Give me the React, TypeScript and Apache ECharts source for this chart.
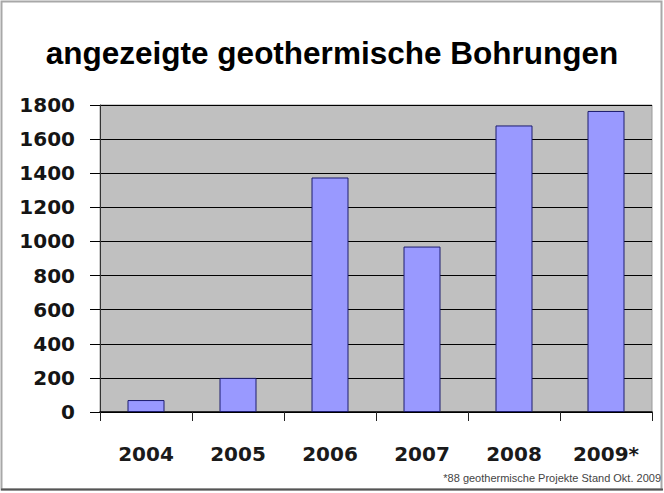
import React, { useEffect, useRef } from "react";
import * as echarts from "echarts";

const categories = ["2004", "2005", "2006", "2007", "2008", "2009*"];
const values = [70, 200, 1375, 970, 1680, 1765];
const yTicks = [0, 200, 400, 600, 800, 1000, 1200, 1400, 1600, 1800];
const titleText = "angezeigte geothermische Bohrungen";
const footnote = "*88 geothermische Projekte Stand Okt. 2009";

export default function App() {
  const ref = useRef<HTMLDivElement>(null);
  useEffect(() => {
    document.body.style.margin = "0";
    const chart = echarts.init(ref.current!, null, { renderer: "svg" });
    chart.setOption({
      animation: false,
      backgroundColor: "#ffffff",
      title: {
        text: titleText,
        left: "center",
        top: 32,
        textStyle: {
          fontFamily: "Liberation Sans",
          fontWeight: "bold",
          fontSize: 31.5,
          color: "#000",
        },
      },
      grid: {
        left: 100,
        right: 12,
        top: 105,
        bottom: 81,
        show: true,
        backgroundColor: "#c0c0c0",
        borderColor: "#9a9a9a",
        borderWidth: 1,
      },
      xAxis: {
        type: "category",
        data: categories,
        axisLine: { show: true, lineStyle: { color: "#000", width: 1.5 } },
        axisTick: { show: true, length: 9, lineStyle: { color: "#222" } },
        axisLabel: {
          margin: 32,
          fontFamily: "DejaVu Sans",
          fontWeight: "bold",
          fontSize: 20,
          color: "#1a1a1a",
        },
      },
      yAxis: {
        type: "value",
        min: yTicks[0],
        max: yTicks[yTicks.length - 1],
        interval: 200,
        axisLine: { show: true, lineStyle: { color: "#333", width: 1 } },
        axisTick: { show: true, length: 10, lineStyle: { color: "#000" } },
        splitLine: { show: true, lineStyle: { color: "#000", width: 1 } },
        axisLabel: {
          margin: 25,
          fontFamily: "DejaVu Sans",
          fontWeight: "bold",
          fontSize: 20,
          color: "#151515",
          formatter: (v: number) => String(v),
        },
      },
      series: [
        {
          type: "bar",
          data: values,
          barWidth: 37,
          itemStyle: {
            color: "#9999ff",
            borderColor: "#1c1c6e",
            borderWidth: 1,
          },
        },
      ],
      graphic: [
        {
          type: "rect",
          shape: { x: 1.5, y: 1.5, width: 660, height: 488 },
          style: { fill: "none", stroke: "#a8a8a8", lineWidth: 2 },
          silent: true,
        },
        {
          type: "line",
          shape: { x1: 1, y1: 489.5, x2: 663, y2: 489.5 },
          style: { stroke: "#555", lineWidth: 2 },
          silent: true,
        },
        {
          type: "text",
          right: 3,
          top: 472,
          style: {
            text: footnote,
            fontFamily: "Liberation Sans",
            fontSize: 11,
            fill: "#444",
          },
        },
      ],
    });
    return () => chart.dispose();
  }, []);
  return <div ref={ref} style={{ width: 664, height: 493 }} />;
}
